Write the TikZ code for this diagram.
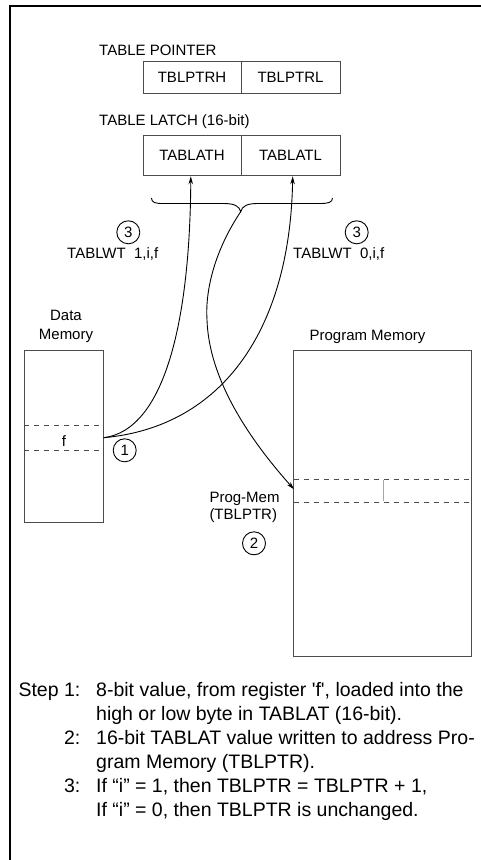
\documentclass[tikz,border=0pt]{standalone}
\usepackage{fontspec}
\setmainfont{Liberation Sans}
\usetikzlibrary{arrows.meta}
\definecolor{boxgray}{gray}{0.3}
\definecolor{tickgray}{gray}{0.65}
\begin{document}
\begin{tikzpicture}[x=1pt,y=-1pt,
  lab/.style={font=\fontsize{15}{18}\selectfont, inner sep=0pt},
  cell/.style={draw=boxgray, line width=1pt, font=\fontsize{15}{18}\selectfont, inner sep=0pt},
  membox/.style={draw=boxgray, line width=1pt, inner sep=0pt},
  circ/.style={circle, draw=black, line width=0.9pt, minimum size=23pt, inner sep=0pt, font=\fontsize{15}{18}\selectfont},
  flow/.style={line width=0.9pt, -{Stealth[length=8pt,width=4.5pt]}},
  wire/.style={line width=0.9pt},
  dashln/.style={line width=0.8pt, dash pattern=on 5pt off 5pt, draw=boxgray},
  steptext/.style={font=\fontsize{19.5}{24}\selectfont, inner sep=0pt}
]
\useasboundingbox (0,0) rectangle (481,860);

% frame
\draw[line width=2pt] (10.3,860) -- (10.3,6.3) -- (481,6.3);

% table pointer
\node[lab, anchor=base west] (tpl) at (99,55) {TABLE POINTER};
\node[cell, minimum width=98pt, minimum height=32pt] (ptrh) at (192,77) {TBLPTRH};
\node[cell, minimum width=99pt, minimum height=32pt] (ptrl) at (290.5,77) {\raisebox{-2.5pt}{TBLPTRL}};

% table latch
\node[lab, anchor=base west] (tll) at (99,125.7) {TABLE LATCH (16-bit)};
\node[cell, minimum width=98pt, minimum height=40.5pt] (lath) at (192,155.5) {TABLATH};
\node[cell, minimum width=99pt, minimum height=40.5pt] (latl) at (290.5,155.5) {TABLATL};

% brace
\coordinate (btip) at (240.7,211.7);
\draw[wire] (151.5,198) .. controls (151.5,202.5) and (155,203.5) .. (163,203.5)
  -- (224,203.5) .. controls (234,203.5) and (239.5,206) .. (btip)
  .. controls (242,206) and (247.5,203.5) .. (257.5,203.5)
  -- (320,203.5) .. controls (328,203.5) and (332.5,202.5) .. (332.5,198);

% circled 3 and TABLWT labels
\node[circ] (c3l) at (128.3,232.3) {3};
\node[lab, anchor=base west] (twl) at (67,258) {TABLWT\ \ 1,i,f};
\node[circ] (c3r) at (356.7,232.3) {3};
\node[lab, anchor=base west] (twr) at (293,258) {TABLWT\ \ 0,i,f};

% data memory
\node[lab, anchor=base] (dml1) at (66,320.7) {Data};
\node[lab, anchor=base] (dml2) at (66,339.3) {Memory};
\node[membox, minimum width=79.4pt, minimum height=172pt] (dmem) at (64,436) {};
\draw[dashln] (24.3,425.7) -- (103.7,425.7);
\draw[dashln] (24.3,450) -- (103.7,450);
\node[lab, anchor=base] (fl) at (64,446) {f};
\coordinate (fsrc) at (103.7,437.7);
\node[circ] (c1) at (124.7,450.3) {1};

% program memory
\node[lab, anchor=base] (pml) at (367.5,340) {Program Memory};
\node[membox, minimum width=177.3pt, minimum height=306pt] (pmem) at (382.35,503) {};
\draw[dashln] (293.7,479) -- (471,479);
\draw[dashln] (293.7,502) -- (471,502);
\draw[draw=tickgray, line width=1pt] (383,480) -- (383,501);
\coordinate (pdst) at (294,489.3);
\node[lab, anchor=base west] (pgm1) at (209.3,502.3) {Prog-Mem};
\node[lab, anchor=base west] (pgm2) at (209.3,519.3) {(TBLPTR)};
\node[circ] (c2) at (254,543.3) {2};

% connectors
\draw[flow] (fsrc) .. controls (165,430) and (190,320) .. (lath.south -| 190.8,0) ;
\draw[flow] (fsrc) .. controls (222,427) and (290,330) .. (latl.south -| 292.7,0);
\draw[flow] (btip) .. controls (215,250) and (205,290) .. (207,320)
  .. controls (209,380) and (250,440) .. (pdst);

% steps
\node[steptext, anchor=base east] (s1n) at (80.5,696) {Step 1:};
\node[steptext, anchor=base west] (s1a) at (96,696) {8-bit value, from register \textquotesingle f\textquotesingle, loaded into the};
\node[steptext, anchor=base west] (s1b) at (96,720) {high or low byte in TABLAT (16-bit).};
\node[steptext, anchor=base east] (s2n) at (80.5,744) {2:};
\node[steptext, anchor=base west] (s2a) at (96,744) {16-bit TABLAT value written to address Pro-};
\node[steptext, anchor=base west] (s2b) at (96,768) {gram Memory (TBLPTR).};
\node[steptext, anchor=base east] (s3n) at (80.5,792) {3:};
\node[steptext, anchor=base west] (s3a) at (96,792) {If “i” = 1, then TBLPTR = TBLPTR + 1,};
\node[steptext, anchor=base west] (s3b) at (96,816) {If “i” = 0, then TBLPTR is unchanged.};
\end{tikzpicture}
\end{document}
